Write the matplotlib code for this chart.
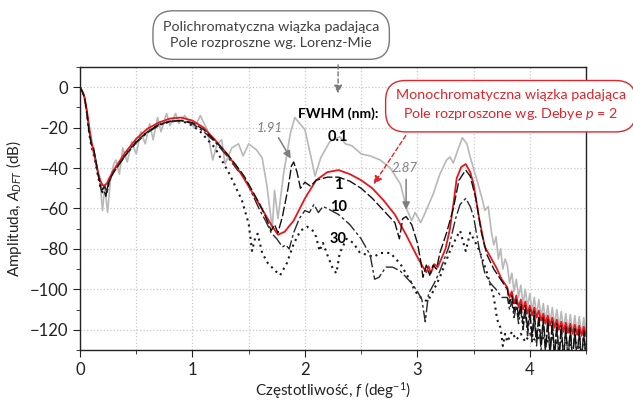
import matplotlib
matplotlib.use('Agg')
import matplotlib.pyplot as plt
from matplotlib.ticker import MultipleLocator

plt.rcParams['font.family'] = ['Lato', 'DejaVu Sans']
plt.rcParams['mathtext.fontset'] = 'custom'
plt.rcParams['mathtext.rm'] = 'Lato'
plt.rcParams['mathtext.it'] = 'Lato:italic'
plt.rcParams['mathtext.bf'] = 'Lato:bold'

# shared frequency grid for the oscillating high-frequency tail
tail_f = [3.80, 3.82, 3.84, 3.86, 3.88, 3.90, 3.92, 3.94, 3.96, 3.98, 4.00, 4.02,
          4.04, 4.06, 4.08, 4.10, 4.12, 4.14, 4.16, 4.18, 4.20, 4.22, 4.24, 4.26,
          4.28, 4.30, 4.32, 4.34, 4.36, 4.38, 4.40, 4.42, 4.44, 4.46, 4.48, 4.50]

# Debye p = 2, monochromatic
f_red = [0, 0.02, 0.04, 0.06, 0.08, 0.10, 0.12, 0.14, 0.16, 0.18, 0.20, 0.22, 0.24,
         0.26, 0.28, 0.30, 0.40, 0.50, 0.60, 0.70, 0.80, 0.90, 1.00, 1.10, 1.20,
         1.30, 1.40, 1.50, 1.60, 1.70, 1.76, 1.82, 1.90, 2.00, 2.10, 2.20, 2.30,
         2.40, 2.50, 2.60, 2.70, 2.80, 2.90, 3.00, 3.05, 3.08, 3.10, 3.12, 3.15,
         3.18, 3.22, 3.25, 3.29, 3.32, 3.35, 3.39, 3.43, 3.47, 3.50, 3.55, 3.60,
         3.65, 3.70, 3.75] + tail_f
db_red = [0, -2, -5, -11, -19, -27, -32, -37, -42, -46, -48.5, -48.5, -47.5,
          -45, -43, -41, -32.5, -25.5, -20.5, -17.5, -15.5, -15, -16.5, -20, -26,
          -32.5, -40, -49, -58.5, -68, -73, -71.5, -66, -55, -46, -42, -41,
          -43, -46, -50, -56, -63, -73, -84, -89, -91.5, -88.5, -92, -87.5,
          -89, -84, -80, -70, -58, -45, -39.5, -38, -42, -48, -65, -79,
          -84, -89, -95,
          -99, -104, -101, -107, -103, -109, -105, -110, -106, -112, -108, -113,
          -109, -114, -110.5, -115.5, -112, -117, -113, -118, -114, -119, -115, -120,
          -116, -121, -116.5, -121.5, -117, -122, -117.5, -122.5, -118, -123, -118.5, -123]

# FWHM 0.1 nm
f_01 = [0, 0.02, 0.04, 0.06, 0.08, 0.10, 0.12, 0.14, 0.16, 0.18, 0.20, 0.22, 0.245,
        0.27, 0.30, 0.32, 0.35, 0.38, 0.42, 0.46, 0.50, 0.54, 0.58, 0.62, 0.65,
        0.69, 0.72, 0.77, 0.80, 0.85, 0.88, 0.93, 0.97, 1.02, 1.07, 1.13, 1.18,
        1.22, 1.26, 1.29, 1.35, 1.41, 1.45, 1.50, 1.57, 1.62, 1.66, 1.71, 1.73,
        1.76, 1.81, 1.87, 1.91, 2.00, 2.06, 2.09, 2.14, 2.22, 2.31, 2.36, 2.42,
        2.50, 2.58, 2.67, 2.76, 2.85, 2.91, 2.95, 2.98, 3.03, 3.07, 3.14, 3.20,
        3.26, 3.29, 3.32, 3.36, 3.40, 3.44, 3.47, 3.53, 3.58, 3.60, 3.63, 3.66,
        3.68, 3.70, 3.72, 3.74, 3.76, 3.78] + tail_f
db_01 = [0, -2, -5, -12, -21, -25, -30, -36, -42, -48, -61, -49, -62,
         -46, -38, -36, -43, -30, -37, -27, -33, -22, -28, -18, -26,
         -15, -22, -13, -19, -13, -18, -14, -17, -20, -14, -21, -36,
         -28, -26, -38, -30, -28, -34, -28, -31, -35, -48, -70, -51,
         -65, -43, -23, -15, -21, -36, -44, -35, -27, -24.5, -28, -29,
         -33, -34, -36, -40, -48, -61, -66, -62, -67, -62, -53, -43,
         -36, -34.5, -37.5, -31, -25, -28, -34.5, -46, -56, -61, -59, -72,
         -78, -74, -85, -80, -90, -85,
         -88, -97, -92, -101, -95, -104, -98, -107, -100, -109, -102, -111,
         -104, -113, -105, -114, -107, -116, -108, -117, -109, -118, -110, -119,
         -111, -120, -112, -121, -112.5, -121.5, -113, -122, -113.5, -122.5, -114, -123]

# FWHM 1 nm
f_1 = [0, 0.02, 0.04, 0.06, 0.08, 0.10, 0.12, 0.14, 0.16, 0.18, 0.19, 0.21, 0.23,
       0.25, 0.27, 0.30, 0.40, 0.50, 0.60, 0.70, 0.80, 0.90, 1.00, 1.10, 1.20,
       1.30, 1.38, 1.42, 1.46, 1.50, 1.55, 1.60, 1.65, 1.70, 1.73, 1.76, 1.80,
       1.85, 1.88, 1.90, 1.93, 1.96, 2.00, 2.05, 2.10, 2.20, 2.30, 2.40, 2.50,
       2.60, 2.70, 2.80, 2.84, 2.87, 2.90, 2.95, 3.00, 3.03, 3.05, 3.08, 3.11,
       3.14, 3.17, 3.20, 3.26, 3.32, 3.37, 3.43, 3.47, 3.52, 3.57, 3.62, 3.68,
       3.74] + tail_f
db_1 = [0, -2, -5, -12, -22, -28, -30, -36, -43, -48, -51, -50, -54,
        -48, -45, -42, -34, -27, -22, -18.5, -16.8, -16.5, -17.5, -21, -26.5,
        -32.5, -38, -41, -44, -48, -53, -58, -64, -71, -68, -72, -64,
        -50, -39, -37, -42, -50, -47, -49, -46, -44.5, -44.5, -46.5, -50,
        -55, -61, -67, -75, -65, -64, -68, -77, -86, -94, -88, -93,
        -88, -90, -82, -72, -60, -46, -41, -44, -55, -72, -83, -90,
        -95,
        -100, -107, -103, -111, -105, -114, -107, -117, -108, -120, -110, -123,
        -111, -125, -113, -127, -114, -129, -115, -131, -116, -132, -117, -133,
        -118, -134, -118.5, -135, -119, -135, -119.5, -135, -120, -135, -120.5, -135]

# FWHM 10 nm
f_10 = [0, 0.02, 0.04, 0.06, 0.08, 0.10, 0.12, 0.14, 0.16, 0.18, 0.20, 0.22, 0.24,
        0.26, 0.28, 0.30, 0.40, 0.50, 0.60, 0.70, 0.80, 0.90, 1.00, 1.10, 1.20,
        1.30, 1.40, 1.44, 1.47, 1.50, 1.55, 1.60, 1.65, 1.70, 1.75, 1.80, 1.83,
        1.86, 1.90, 1.95, 2.00, 2.04, 2.08, 2.12, 2.16, 2.20, 2.30, 2.40, 2.50,
        2.58, 2.62, 2.66, 2.72, 2.78, 2.85, 2.95, 3.00, 3.04, 3.07, 3.10, 3.15,
        3.20, 3.28, 3.34, 3.38, 3.43, 3.47, 3.50, 3.55, 3.60, 3.65, 3.70, 3.75] + tail_f
db_10 = [0, -2, -5, -12, -21, -28, -31, -36, -43, -48, -50, -49, -52,
         -47, -44, -42, -34, -27.5, -22.5, -19, -17, -16.5, -18, -22, -27,
         -33.5, -41, -43, -46, -49, -55, -61, -66, -72, -75, -79, -78,
         -80, -72, -65, -61, -62, -58, -62, -59, -60, -63, -68, -75,
         -83, -95, -94, -89, -89, -91, -97, -101, -105, -116, -102, -97,
         -91, -79, -65, -58, -55, -59, -64, -80, -92, -97, -100, -104,
         -104, -110, -106, -114, -108, -117, -110, -120, -111, -123, -113, -126,
         -114, -128, -115, -130, -116, -132, -117, -133, -118, -134, -119, -135,
         -119.5, -135, -120, -135, -120.5, -135, -121, -135, -121.5, -135, -122, -135]

# FWHM 30 nm
f_30 = [0, 0.02, 0.04, 0.06, 0.08, 0.10, 0.12, 0.14, 0.16, 0.18, 0.20, 0.22, 0.24,
        0.26, 0.28, 0.30, 0.40, 0.50, 0.60, 0.70, 0.80, 0.90, 1.00, 1.07, 1.20,
        1.33, 1.44, 1.50, 1.53, 1.56, 1.58, 1.62, 1.67, 1.74, 1.78, 1.84, 1.90,
        1.96, 2.02, 2.07, 2.10, 2.13, 2.16, 2.20, 2.25, 2.28, 2.31, 2.37, 2.43,
        2.49, 2.56, 2.61, 2.67, 2.76, 2.85, 2.94, 2.98, 3.03, 3.09, 3.14, 3.20,
        3.29, 3.35, 3.38, 3.43, 3.47, 3.51, 3.56, 3.62, 3.68, 3.71, 3.74, 3.76,
        3.78, 3.80, 3.84, 3.88, 3.92, 3.96, 4.00, 4.05, 4.10, 4.15, 4.20, 4.25,
        4.30, 4.35, 4.40, 4.45, 4.50]
db_30 = [0, -2, -5, -12, -22, -29, -33, -38, -44, -49, -52, -49, -51,
         -46, -43, -41, -33, -27, -22, -18.5, -17, -16.5, -19, -22, -30,
         -43, -56, -67.5, -81, -74, -72.5, -82, -87, -91, -93, -87, -77.5,
         -71, -69, -71, -74, -81, -77, -83, -90, -92, -82, -75, -77,
         -82, -83, -84, -82, -82, -87.5, -96, -101, -104, -106, -101, -94,
         -81, -74, -71, -81, -72, -76, -82, -92, -104, -115, -119, -128,
         -122, -126, -121, -125, -122, -126, -122, -125.5, -123, -126, -124, -127,
         -125, -128, -126, -129, -127]

fig = plt.figure(figsize=(6.33, 4.01), dpi=100)
ax = fig.add_axes([0.1264, 0.1272, 0.7994, 0.7057])

ax.plot(f_01, db_01, color='#b8b8b8', lw=1.2)
ax.plot(f_30, db_30, color='#1a1a1a', lw=1.5, linestyle=(0, (1, 2)))
ax.plot(f_10, db_10, color='#2a2a2a', lw=1.0, linestyle=(0, (9, 2, 2, 2)))
ax.plot(f_red, db_red, color='#e8161b', lw=1.3)
ax.plot(f_1, db_1, color='#111111', lw=1.0, linestyle=(0, (7, 2)))

ax.set_xlim(0, 4.5)
ax.set_ylim(-130, 10)
ax.xaxis.set_major_locator(MultipleLocator(1))
ax.xaxis.set_minor_locator(MultipleLocator(0.5))
ax.yaxis.set_major_locator(MultipleLocator(20))
ax.yaxis.set_minor_locator(MultipleLocator(10))
ax.grid(which='both', axis='x', color='#c8c8c8', linestyle=':', lw=0.9)
ax.grid(which='major', axis='y', color='#c8c8c8', linestyle=':', lw=0.9)
ax.set_axisbelow(True)
ax.tick_params(which='both', direction='out', labelsize=12, colors='#222222')
ax.tick_params(which='major', length=5)
ax.tick_params(which='minor', length=3)
for s in ax.spines.values():
    s.set_color('#222222')
    s.set_linewidth(1.0)

ax.set_xlabel('Częstotliwość, $f$ (deg$^{-1}$)', fontsize=11, color='#222222', labelpad=2)
ax.set_ylabel('Amplituda, $A_{DFT}$ (dB)', fontsize=11, color='#222222', labelpad=4)

# FWHM labels
ax.text(2.295, -12.9, 'FWHM (nm):', ha='center', va='center', fontsize=10, fontweight='bold')
for y, lab in zip([-24.8, -48.6, -59.5, -75.0], ['0.1', '1', '10', '30']):
    ax.text(2.295, y, lab, ha='center', va='center', fontsize=10.5, fontweight='bold')

# peak position markers
ax.text(1.69, -20.4, '1.91', ha='center', va='center', fontsize=9.5, style='italic', color='#7f7f7f')
ax.annotate('', xy=(1.886, -36.5), xytext=(1.753, -23.8),
            arrowprops=dict(arrowstyle='-|>', color='#7f7f7f', lw=1.1, mutation_scale=11))
ax.text(2.89, -40.2, '2.87', ha='center', va='center', fontsize=9.5, style='italic', color='#7f7f7f')
ax.annotate('', xy=(2.90, -62.0), xytext=(2.90, -44.2),
            arrowprops=dict(arrowstyle='-|>', color='#7f7f7f', lw=1.1, mutation_scale=11))

# callout boxes
ax.text(1.70, 25.8, 'Polichromatyczna wiązka padająca\nPole rozproszne wg. Lorenz-Mie',
        ha='center', va='center', fontsize=10.3, color='#404040', linespacing=1.45,
        bbox=dict(boxstyle='round,pad=0.7,rounding_size=1.4', fc='white', ec='#7a7a7a', lw=1.0))
ax.annotate('', xy=(2.295, -4.5), xytext=(2.295, 12.4), annotation_clip=False,
            arrowprops=dict(arrowstyle='-|>', color='#7a7a7a', lw=1.0, linestyle=(0, (3, 2)),
                            mutation_scale=12))

ax.text(3.83, -8.9, 'Monochromatyczna wiązka padająca\nPole rozproszone wg. Debye $p$ = 2',
        ha='center', va='center', fontsize=10.3, color='#e0262b', linespacing=1.45,
        bbox=dict(boxstyle='round,pad=0.7,rounding_size=1.4', fc='white', ec='#e0262b', lw=1.0))
ax.annotate('', xy=(2.598, -49.1), xytext=(2.91, -22.8), annotation_clip=False,
            arrowprops=dict(arrowstyle='-|>', color='#e0262b', lw=1.0, linestyle=(0, (3, 2)),
                            mutation_scale=12))

fig.savefig('out.png', dpi=100)
